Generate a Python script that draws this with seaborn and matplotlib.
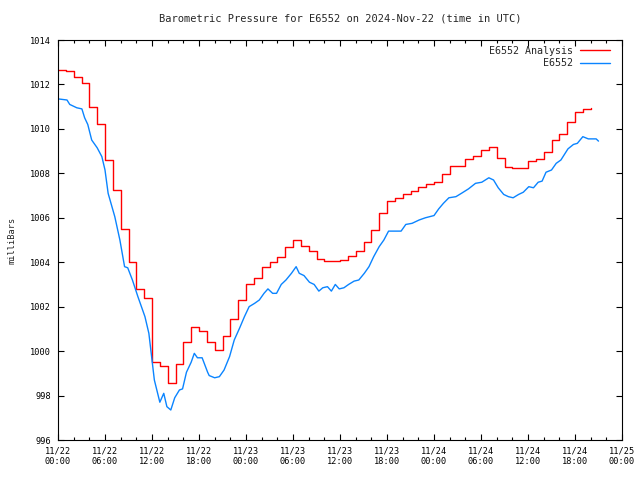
import pandas as pd
import matplotlib
matplotlib.use("Agg")
import matplotlib.pyplot as plt
import matplotlib.dates as mdates
import seaborn as sns

# hours since 2024-11-22 00:00 UTC
analysis_hours = list(range(0, 69))
analysis_mb = [
    1012.65, 1012.6, 1012.35, 1012.05, 1011.0, 1010.2, 1008.6, 1007.25, 1005.5, 1004.0,
    1002.8, 1002.4, 999.5, 999.35, 998.55, 999.4, 1000.4, 1001.1, 1000.9, 1000.4,
    1000.05, 1000.7, 1001.45, 1002.3, 1003.0, 1003.3, 1003.8, 1004.0, 1004.25, 1004.7,
    1005.0, 1004.75, 1004.5, 1004.15, 1004.05, 1004.05, 1004.1, 1004.3, 1004.5, 1004.9,
    1005.45, 1006.2, 1006.75, 1006.9, 1007.05, 1007.2, 1007.4, 1007.5, 1007.6, 1007.95,
    1008.35, 1008.35, 1008.65, 1008.8, 1009.05, 1009.2, 1008.7, 1008.3, 1008.25, 1008.25,
    1008.55, 1008.65, 1008.95, 1009.5, 1009.75, 1010.3, 1010.75, 1010.9, 1010.93,
]

station_hours = [
    0.0, 1.15, 1.5, 2.4, 3.05, 3.4, 3.8, 4.3, 5.0, 5.6, 6.0, 6.4, 7.25, 7.9, 8.5, 8.9,
    9.5, 10.2, 10.7, 11.1, 11.6, 12.0, 12.3, 13.0, 13.5, 13.9, 14.4, 14.9, 15.5, 15.9,
    16.4, 17.0, 17.4, 17.8, 18.4, 19.1, 19.3, 20.0, 20.6, 21.2, 21.9, 22.5, 23.2, 23.8,
    24.4, 25.1, 25.7, 26.3, 26.8, 27.4, 27.9, 28.5, 29.1, 29.8, 30.4, 30.8, 31.4, 32.1,
    32.7, 33.3, 33.8, 34.4, 34.9, 35.4, 35.9, 36.5, 37.1, 37.8, 38.4, 39.1, 39.7, 40.3,
    41.0, 41.6, 42.2, 43.8, 44.4, 45.2, 46.1, 46.9, 48.0, 48.6, 49.2, 49.9, 50.8, 51.5,
    52.4, 53.3, 54.1, 55.0, 55.6, 56.2, 56.9, 57.5, 58.1, 58.8, 59.4, 60.1, 60.7, 61.3,
    61.8, 62.3, 63.0, 63.6, 64.2, 65.1, 65.8, 66.3, 67.0, 67.7, 68.7, 69.0,
]
station_mb = [
    1011.35, 1011.3, 1011.1, 1010.95, 1010.9, 1010.5, 1010.2, 1009.5, 1009.15, 1008.75,
    1008.15, 1007.1, 1006.05, 1005.0, 1003.8, 1003.75, 1003.2, 1002.45, 1001.95, 1001.55,
    1000.8, 999.6, 998.7, 997.7, 998.1, 997.5, 997.35, 997.9, 998.25, 998.3,
    999.05, 999.5, 999.9, 999.7, 999.7, 999.05, 998.9, 998.8, 998.85, 999.15,
    999.75, 1000.5, 1001.05, 1001.55, 1002.0, 1002.15, 1002.3, 1002.6, 1002.8, 1002.6,
    1002.6, 1003.0, 1003.2, 1003.5, 1003.8, 1003.5, 1003.4, 1003.1, 1003.0, 1002.7,
    1002.85, 1002.9, 1002.7, 1003.0, 1002.8, 1002.85, 1003.0, 1003.15, 1003.2, 1003.5,
    1003.8, 1004.25, 1004.7, 1005.0, 1005.4, 1005.4, 1005.7, 1005.75, 1005.9, 1006.0,
    1006.1, 1006.4, 1006.65, 1006.9, 1006.95, 1007.1, 1007.3, 1007.55, 1007.6, 1007.8,
    1007.7, 1007.35, 1007.05, 1006.95, 1006.9, 1007.05, 1007.15, 1007.4, 1007.35, 1007.6,
    1007.65, 1008.05, 1008.15, 1008.45, 1008.6, 1009.1, 1009.3, 1009.35, 1009.65, 1009.55,
    1009.55, 1009.45,
]

start = pd.Timestamp("2024-11-22 00:00")
end = pd.Timestamp("2024-11-25 00:00")

analysis = pd.DataFrame({
    "time": start + pd.to_timedelta(analysis_hours, unit="h"),
    "pressure": analysis_mb,
})
station = pd.DataFrame({
    "time": start + pd.to_timedelta(station_hours, unit="h"),
    "pressure": station_mb,
})

sns.set_style("ticks")
plt.rcParams["font.family"] = ["DejaVu Sans Mono"]
plt.rcParams["font.size"] = 6.2

fig = plt.figure(figsize=(6.4, 4.8), dpi=100)
ax = fig.add_axes([58 / 640, 40 / 480, 564 / 640, 400 / 480])

sns.lineplot(data=analysis, x="time", y="pressure", ax=ax, color="#ff0000",
             linewidth=1, drawstyle="steps-post", label="E6552 Analysis")
sns.lineplot(data=station, x="time", y="pressure", ax=ax, color="#0a84ff",
             linewidth=1, label="E6552")

ax.set_xlim(start, end)
ax.set_ylim(996, 1014)
ax.set_yticks(range(996, 1015, 2))
ax.xaxis.set_major_locator(mdates.HourLocator(byhour=range(0, 24, 6)))
ax.xaxis.set_minor_locator(mdates.HourLocator(byhour=range(0, 24, 2)))
ax.xaxis.set_major_formatter(mdates.DateFormatter("%m/%d\n%H:%M"))

ax.tick_params(which="both", direction="in", top=True, right=True,
               width=0.8, colors="black", labelsize=6.2)
ax.tick_params(which="major", length=4.5, pad=5)
ax.tick_params(which="minor", length=2.5)
for s in ax.spines.values():
    s.set_linewidth(0.8)
    s.set_color("black")

ax.set_xlabel("")
ax.set_ylabel("milliBars", labelpad=10)
ax.set_title("Barometric Pressure for E6552 on 2024-Nov-22 (time in UTC)", pad=13)

ax.legend(loc="upper right", bbox_to_anchor=(0.99, 1.0), frameon=False,
          markerfirst=False, handlelength=3.0, handletextpad=0.7,
          labelspacing=0.25, borderaxespad=0.2, fontsize=7.2)

fig.savefig("out.png", dpi=100)
